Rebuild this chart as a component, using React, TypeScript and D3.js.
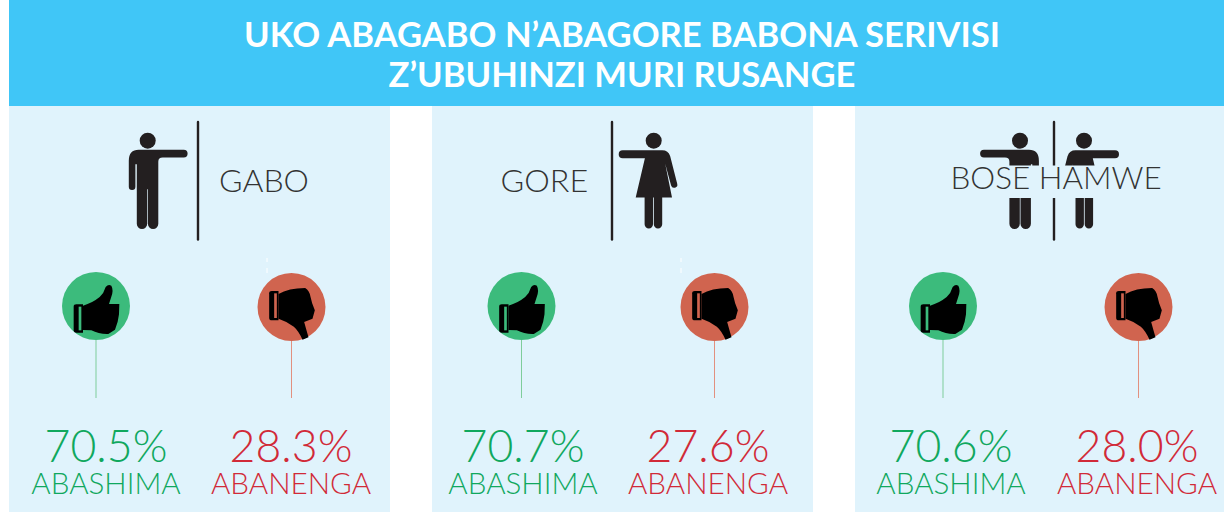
import React from "react";
import * as d3 from "d3";

const titleLines = ["UKO ABAGABO N\u2019ABAGORE BABONA SERIVISI", "Z\u2019UBUHINZI MURI RUSANGE"];
const groups = ["GABO", "GORE", "BOSE HAMWE"];
const positive = [70.5, 70.7, 70.6];
const negative = [28.3, 27.6, 28.0];
const positiveLabel = "ABASHIMA";
const negativeLabel = "ABANENGA";

const width = 1224;
const height = 512;
const font = "Lato, sans-serif";
const green = "#10a85e";
const red = "#d12a38";

const panelX = d3.scaleBand().domain(groups).range([9, 1236]).paddingInner(42 / 423);

// positions inside each panel, measured from the panel's left edge
const greenCircle = [87, 89.5, 88];
const redCircle = [282.5, 282.5, 283.5];
const greenText = [97, 91, 96];
const redText = [282, 276, 282];
const pctFormat = d3.format(".1f");

// head centre is the origin
const manPath =
  "M-9 9H36a3.9 3.9 0 0 1 0 7.8H15Q10.6 16.8 10.6 21V83a5.2 5.2 0 0 1-10.4 0V48.5H-0.5V83a5.2 5.2 0 0 1-10.4 0V23.5H-12.3V46a3.3 3.3 0 0 1-6.6 0V20Q-18.9 9-9 9Z";
const womanPath =
  "M-31 9.6H8.5Q14.5 9.6 16.5 15.5L23.5 43a3.1 3.1 0 0 1-6.1 1.8L11.5 23L18.3 56.8H8.5V83.5a4.2 4.2 0 0 1-8.4 0V56.8H-0.7V83.5a4.2 4.2 0 0 1-8.4 0V56.8H-18L-8.8 17.6H-31a4 4 0 0 1 0-8Z";
// drawn in 3x pixels with the circle centre at (139,125)
const thumbUp =
  "M100 124Q128 116 150 98Q163 86 168 68Q176 58 185 64Q193 78 184 100L178 119H209L208 150L204 172L196 196L176 209Q148 210 125 198L100 197Z";
const thumbDown =
  "M100 86Q130 68 180 68Q193 76 196 94L201 114L209 135L202 160L177 170Q184 195 190 216L172 223Q160 196 146 184Q125 168 100 160Z";
const cuff = "M72 127Q72 120 80 120H100V205H80Q72 205 72 198Z";
const cuffDown = "M72 84Q72 77 80 77H100V165H80Q72 165 72 158Z";

function Person({ x, d, flip = false }: { x: number; d: string; flip?: boolean }) {
  return (
    <g transform={`translate(${x},140.7) scale(${flip ? -1 : 1},1)`}>
      <circle r={8} fill="#231f20" />
      <path d={d} fill="#231f20" />
    </g>
  );
}

function Badge({ cx, up }: { cx: number; up: boolean }) {
  const cy = up ? 306 : 307;
  const fill = up ? "#3cbb7c" : "#d0644f";
  return (
    <g>
      <line x1={cx} x2={cx} y1={cy + 33} y2={398} stroke={up ? "#7fcd9b" : "#e2907f"} strokeWidth={1} />
      <circle cx={cx} cy={cy} r={34} fill={fill} />
      <g transform={`translate(${cx},${cy}) scale(${1 / 3}) translate(-139,-125)`}>
        <path d={up ? cuff : cuffDown} fill="#000" />
        <rect x={87} y={up ? 127 : 84} width={8} height={up ? 71 : 74} fill={fill} />
        <path d={up ? thumbUp : thumbDown} fill="#000" />
      </g>
    </g>
  );
}

export default function App() {
  return (
    <svg width={width} height={height} style={{ position: "absolute", left: 0, top: 0 }} fontFamily={font}>
      <rect width={width} height={height} fill="#fff" />
      <rect x={9} y={0} width={1215} height={106} fill="#40c6f7" />
      {titleLines.map((t, i) => (
        <text key={t} x={622} y={47 + i * 40} textAnchor="middle" fill="#fff" fontSize={34.6} fontWeight={700}>
          {t}
        </text>
      ))}

      {groups.map((g, i) => {
        const x0 = panelX(g) as number;
        return (
          <g key={g}>
            <rect x={x0} y={106} width={panelX.bandwidth()} height={height - 106} fill="#e0f3fc" />
            <Badge cx={x0 + greenCircle[i]} up={true} />
            <Badge cx={x0 + redCircle[i]} up={false} />
            <text x={x0 + greenText[i]} y={461.5} textAnchor="middle" fill={green} fontSize={44.6} fontWeight={300}>
              {pctFormat(positive[i])}%
            </text>
            <text x={x0 + greenText[i]} y={494} textAnchor="middle" fill={green} fontSize={29.6} fontWeight={300}>
              {positiveLabel}
            </text>
            <text x={x0 + redText[i]} y={461.5} textAnchor="middle" fill={red} fontSize={44.6} fontWeight={300}>
              {pctFormat(negative[i])}%
            </text>
            <text x={x0 + redText[i]} y={494} textAnchor="middle" fill={red} fontSize={29.6} fontWeight={300}>
              {negativeLabel}
            </text>
          </g>
        );
      })}

      {/* GABO */}
      <Person x={147.7} d={manPath} />
      <line x1={198} x2={198} y1={122} y2={239.5} stroke="#231f20" strokeWidth={2.4} strokeLinecap="round" />
      <text x={219} y={192} fill="#333" fontSize={32} fontWeight={300}>{groups[0]}</text>
      <path d="M267 258v4M267 268v5" stroke="#fff" strokeWidth={1} />

      {/* GORE */}
      <text x={500.5} y={192} fill="#333" fontSize={32.3} fontWeight={300}>{groups[1]}</text>
      <line x1={612} x2={612} y1={122} y2={239.5} stroke="#231f20" strokeWidth={2.4} strokeLinecap="round" />
      <Person x={653.7} d={womanPath} />
      <path d="M681 258v4M681 268v5" stroke="#fff" strokeWidth={1} />

      {/* BOSE HAMWE: label box hides the middle of the figures */}
      <Person x={1020} d={manPath} flip={true} />
      <Person x={1084} d={womanPath} flip={true} />
      <line x1={1054} x2={1054} y1={122} y2={239.5} stroke="#231f20" strokeWidth={2.4} strokeLinecap="round" />
      <rect x={949} y={165.5} width={213} height={32.5} fill="#e0f3fc" />
      <text x={950.5} y={189} fill="#333" fontSize={31.4} fontWeight={300}>{groups[2]}</text>
    </svg>
  );
}
